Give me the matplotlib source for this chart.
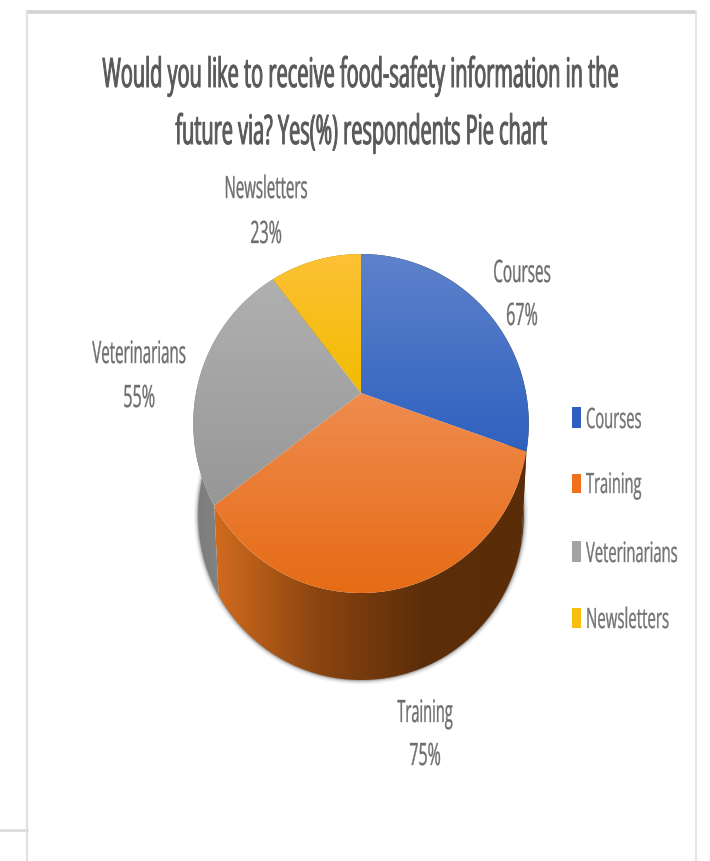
import numpy as np
import matplotlib
matplotlib.use("Agg")
import matplotlib.pyplot as plt
from matplotlib import font_manager as fm
from matplotlib.colors import LinearSegmentedColormap
from matplotlib.patches import Polygon, Rectangle
from matplotlib.patheffects import AbstractPathEffect
from matplotlib.textpath import TextPath
from matplotlib.transforms import Affine2D

categories = ["Courses", "Training", "Veterinarians", "Newsletters"]
values = [67, 75, 55, 23]
title_lines = ["Would you like to receive food-safety information in the",
               "future via? Yes(%) respondents Pie chart"]

top_colors = {
    "Courses": ("#5E82CB", "#2E61BF"),
    "Training": ("#EF8C4F", "#E66B15"),
    "Veterinarians": ("#B0B0B0", "#979797"),
    "Newsletters": ("#FDC136", "#F1BC00"),
}
wall_colors = {
    "Courses": ("#4A3418", "#4A3418"),
    "Training": ("#D26C1E", "#8A4410", "#5C2E0A", "#5A2D08"),
    "Veterinarians": ("#7C7C7C", "#8F8F8F"),
    "Newsletters": ("#A07A00", "#A07A00"),
}
swatch_colors = ["#2E5FC0", "#F0701E", "#A3A3A3", "#F8BE0E"]

# Pie geometry in canvas pixels
APEX_X, APEX_Y = 361, 393
PLANE_A, PLANE_B, PLANE_C = 164.0, 0.18, 165.0
BASE_SHIFT, BASE_SCALE = 93, 0.97
CAP_RATIO = 0.714
FAMILY = "Open Sans"


class TallGlyphs(AbstractPathEffect):
    """Stretches glyphs vertically about their baseline and thickens them a little."""

    def __init__(self, factor, stroke):
        super().__init__()
        self.factor = factor
        self.stroke = stroke

    def draw_path(self, renderer, gc, tpath, affine, rgbFace=None):
        gc0 = renderer.new_gc()
        gc0.copy_properties(gc)
        gc0.set_foreground(rgbFace)
        gc0.set_linewidth(self.stroke)
        renderer.draw_path(gc0, tpath, Affine2D().scale(1, self.factor) + affine, rgbFace)
        gc0.restore()


def project(theta, shift=0.0, scale=1.0):
    """Rim point of the tilted disc; theta runs clockwise from twelve o'clock."""
    X, Y = np.sin(theta), np.cos(theta)
    w = 1 + PLANE_B * Y
    return (APEX_X + scale * PLANE_C * X / w,
            APEX_Y - scale * PLANE_A * Y / w + shift)


def gradient(ax, patch, stops, horizontal=False):
    verts = patch.get_xy()
    x0, x1 = verts[:, 0].min(), verts[:, 0].max()
    y0, y1 = verts[:, 1].min(), verts[:, 1].max()
    cmap = LinearSegmentedColormap.from_list("g", stops)
    ramp = np.linspace(0, 1, 256)
    ramp = ramp[None, :] if horizontal else ramp[:, None]
    im = ax.imshow(ramp, cmap=cmap, extent=(x0, x1, y1, y0), aspect="auto",
                   zorder=patch.get_zorder(), interpolation="bilinear")
    ax.add_patch(patch)
    patch.set_facecolor("none")
    patch.set_edgecolor("none")
    im.set_clip_path(patch)


def label(ax, s, x, y, width, cap, color, ha="center", stroke=0.25):
    prop = fm.FontProperties(family=FAMILY)
    unit = TextPath((0, 0), s, size=1, prop=prop).get_extents().width
    size_px = width / unit
    t = ax.text(x, y, s, ha=ha, va="baseline", family=FAMILY,
                fontsize=size_px * 72 / 100, color=color)
    t.set_path_effects([TallGlyphs(cap / (size_px * CAP_RATIO), stroke)])
    return t


fig = plt.figure(figsize=(7.10, 8.61), dpi=100, facecolor="white")
ax = fig.add_axes([0, 0, 1, 1])

# Page frame
ax.plot([27, 696], [11.5, 11.5], color="#D2D2D2", lw=2.6, solid_capstyle="butt", zorder=1)
ax.plot([27, 27], [11, 861], color="#E2E2E2", lw=1.6, zorder=1)
ax.plot([696, 696], [11, 861], color="#E0E0E0", lw=1.2, zorder=1)
ax.plot([0, 27], [830, 830], color="#DDDDDD", lw=2.0, zorder=1)

# Slice boundaries from the values
fractions = np.array(values, dtype=float) / sum(values)
edges = np.concatenate([[0], np.cumsum(fractions)]) * 2 * np.pi

# Soft shadow under the base
ring = np.linspace(0, 2 * np.pi, 400)
rx, ry = project(ring, BASE_SHIFT, BASE_SCALE)
for lw, alpha in [(9, 0.06), (6, 0.10), (3.5, 0.18), (1.5, 0.28)]:
    ax.plot(rx, ry, color="#404040", lw=lw * 0.72, alpha=alpha, zorder=2)

# Side walls, back to front
for i in [3, 0, 2, 1]:
    name = categories[i]
    arc = np.linspace(edges[i], edges[i + 1], 200)
    tx, ty = project(arc)
    bx, by = project(arc, BASE_SHIFT, BASE_SCALE)
    verts = np.column_stack([np.r_[tx, bx[::-1]], np.r_[ty, by[::-1]]])
    gradient(ax, Polygon(verts, closed=True, zorder=3 + 0.1 * i), wall_colors[name], horizontal=True)

# Top faces
for i, name in enumerate(categories):
    arc = np.linspace(edges[i], edges[i + 1], 200)
    tx, ty = project(arc)
    verts = np.column_stack([np.r_[APEX_X, tx], np.r_[APEX_Y, ty]])
    gradient(ax, Polygon(verts, closed=True, zorder=5), top_colors[name])

# Title
TITLE_COLOR = "#595959"
label(ax, title_lines[0], 361, 87, 515, 29, TITLE_COLOR, stroke=0.7)
label(ax, title_lines[1], 361, 144, 371, 29, TITLE_COLOR, stroke=0.7)

# Data labels
LABEL_COLOR = "#6E6E6E"
label_spots = {
    "Courses": (522, 282, 325, 56),
    "Training": (425, 722, 765, 55),
    "Veterinarians": (139, 363, 407, 93),
    "Newsletters": (266, 198, 243, 81),
}
for name, val in zip(categories, values):
    x, y1, y2, w = label_spots[name]
    label(ax, name, x, y1, w, 22, LABEL_COLOR)
    label(ax, f"{val}%", x, y2, 30, 22, LABEL_COLOR)

# Legend
legend_rows = [(407, 428, 54), (474, 493, 55), (541, 562, 91), (608, 628, 81)]
for name, col, (top, base, w) in zip(categories, swatch_colors, legend_rows):
    ax.add_patch(Rectangle((572, top), 9, base - top, facecolor=col, edgecolor="none", zorder=6))
    label(ax, name, 586, base, w, 20, "#737373", ha="left")

ax.set_xlim(0, 710)
ax.set_ylim(861, 0)
ax.axis("off")

fig.savefig("out.png", dpi=100, facecolor="white")
